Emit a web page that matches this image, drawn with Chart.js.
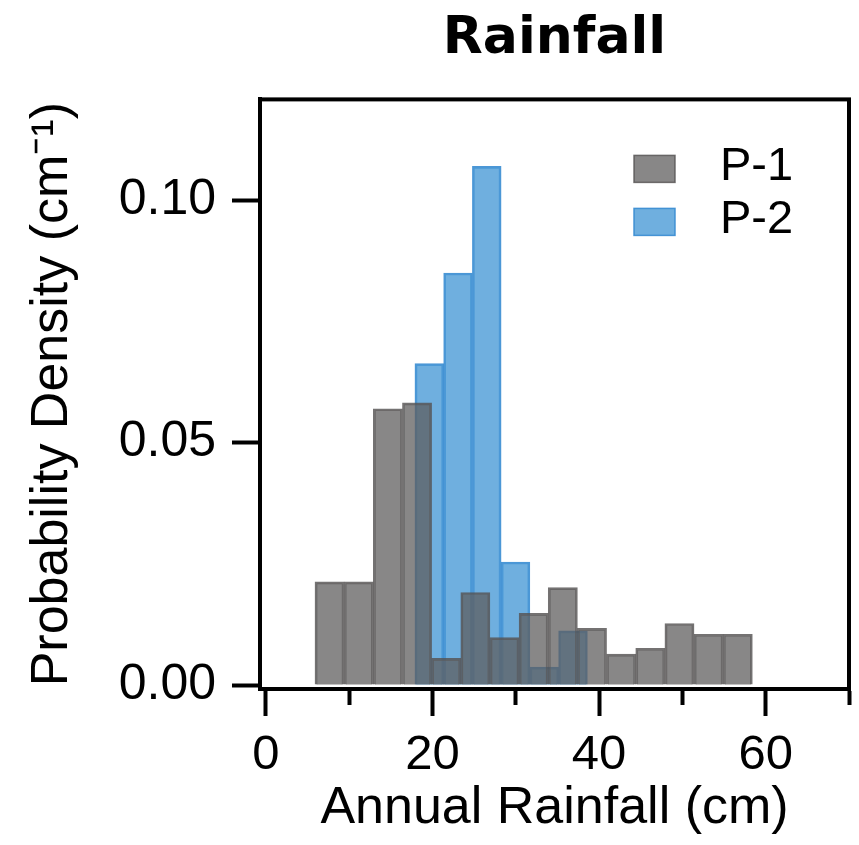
<!DOCTYPE html>
<html>
<head>
<meta charset="utf-8">
<script src="https://cdn.jsdelivr.net/npm/chart.js@4.4.1/dist/chart.umd.min.js"></script>
<style>
  html, body { margin: 0; padding: 0; background: #fff; }
  #wrap { width: 859px; height: 845px; }
</style>
</head>
<body>
<div id="wrap"><canvas id="chart" width="859" height="845"></canvas></div>
<script>
// P-1 histogram: bin centres (cm) and probability densities
const p1Centers = [7.65, 11.15, 14.65, 18.15, 21.65, 25.15, 28.65, 32.15, 35.65, 39.15, 42.65, 46.15, 49.65, 53.15, 56.65];
const p1Density = [0.0213, 0.0213, 0.0570, 0.0582, 0.0055, 0.0191, 0.0098, 0.0148, 0.0201, 0.0117, 0.0064, 0.0076, 0.0127, 0.0105, 0.0105];

// P-2 histogram
const p2Centers = [19.62, 23.07, 26.52, 29.97, 33.42, 36.87];
const p2Density = [0.0663, 0.0850, 0.1070, 0.0254, 0.0037, 0.0112];

const xMajorTicks = [0, 20, 40, 60];
const xMinorTicks = [10, 30, 50, 70];
const yTicks = [0, 0.05, 0.10];

const FONT = "'Liberation Sans', Arial, sans-serif";
const allXTicks = [...xMajorTicks, ...xMinorTicks].sort((a, b) => a - b);

// box around the plot area
const framePlugin = {
  id: 'frame',
  afterDatasetsDraw(chart) {
    const { ctx, chartArea: a } = chart;
    ctx.save();
    ctx.strokeStyle = '#000';
    ctx.lineWidth = 4;
    ctx.strokeRect(a.left, a.top, a.right - a.left, a.bottom - a.top);
    ctx.restore();
  }
};

// legend in the top right corner of the plot
const legendPlugin = {
  id: 'insideLegend',
  afterDraw(chart) {
    const { ctx, chartArea: a } = chart;
    const x0 = a.right - 215;
    let y0 = a.top + 56;
    ctx.save();
    ctx.font = '47px ' + FONT;
    ctx.textBaseline = 'middle';
    chart.data.datasets.forEach(ds => {
      ctx.fillStyle = ds.backgroundColor;
      ctx.fillRect(x0, y0, 41, 27);
      ctx.strokeStyle = ds.borderColor;
      ctx.lineWidth = 1.5;
      ctx.strokeRect(x0, y0, 41, 27);
      ctx.fillStyle = '#000';
      ctx.fillText(ds.label, x0 + 86, y0 + 12);
      y0 += 53;
    });
    ctx.restore();
  }
};

new Chart(document.getElementById('chart'), {
  type: 'bar',
  data: {
    datasets: [
      {
        label: 'P-1',
        xAxisID: 'x',
        data: p1Centers.map((c, i) => ({ x: c, y: p1Density[i] })),
        backgroundColor: 'rgba(95,93,93,0.74)',
        borderColor: 'rgba(85,83,83,0.82)',
        borderWidth: 2,
        borderSkipped: 'start'
      },
      {
        label: 'P-2',
        xAxisID: 'x2',
        data: p2Centers.map((c, i) => ({ x: c, y: p2Density[i] })),
        backgroundColor: 'rgba(75,155,215,0.8)',
        borderColor: 'rgba(55,140,210,0.9)',
        borderWidth: 2,
        borderSkipped: 'start'
      }
    ]
  },
  options: {
    responsive: false,
    animation: false,
    devicePixelRatio: 1,
    grouped: false,
    barPercentage: 1,
    categoryPercentage: 1,
    layout: { padding: { left: 0, right: 8, top: 0, bottom: 0 } },
    plugins: {
      legend: { display: false },
      tooltip: { enabled: false },
      title: {
        display: true,
        fullSize: false,
        text: 'Rainfall',
        color: '#000',
        font: { family: "'DejaVu Sans', sans-serif", size: 52, weight: 'bold' },
        padding: { top: 8, bottom: 29 }
      }
    },
    scales: {
      x: {
        type: 'linear',
        offset: false,
        min: -0.7,
        max: 70,
        afterBuildTicks: s => { s.ticks = allXTicks.map(v => ({ value: v })); },
        afterFit: s => { s.height = 156; },
        ticks: {
          autoSkip: false,
          maxRotation: 0,
          padding: 10,
          color: '#000',
          font: { family: FONT, size: 49 },
          callback: v => xMajorTicks.includes(v) ? String(v) : ''
        },
        grid: {
          offset: false,
          drawOnChartArea: false,
          drawTicks: true,
          tickLength: 27,
          tickWidth: 4,
          tickColor: '#000',
          tickBorderDash: ctx => (ctx.tick && xMinorTicks.includes(ctx.tick.value)) ? [14, 200] : []
        },
        border: { display: true, color: '#000', width: 4 },
        title: {
          display: true,
          text: 'Annual Rainfall (cm)',
          color: '#000',
          font: { family: FONT, size: 52 },
          padding: { top: 0, bottom: 5 }
        }
      },
      x2: {
        type: 'linear',
        offset: false,
        min: -0.7,
        max: 70,
        display: false,
        grid: { offset: false },
        afterBuildTicks: s => { s.ticks = allXTicks.map(v => ({ value: v })); }
      },
      y: {
        min: -0.0008,
        max: 0.1208,
        afterBuildTicks: s => { s.ticks = yTicks.map(v => ({ value: v })); },
        afterFit: s => { s.width = 260; },
        ticks: {
          padding: 16,
          color: '#000',
          font: { family: FONT, size: 50 },
          callback: v => Number(v).toFixed(2)
        },
        grid: {
          drawOnChartArea: false,
          drawTicks: true,
          tickLength: 28,
          tickWidth: 4,
          tickColor: '#000'
        },
        border: { display: true, color: '#000', width: 4 },
        title: {
          display: true,
          text: 'Probability Density (cm\u207B\u00B9)',
          color: '#000',
          font: { family: FONT, size: 52 },
          padding: { top: 21, bottom: 0 }
        }
      }
    }
  },
  plugins: [framePlugin, legendPlugin]
});
</script>
</body>
</html>
